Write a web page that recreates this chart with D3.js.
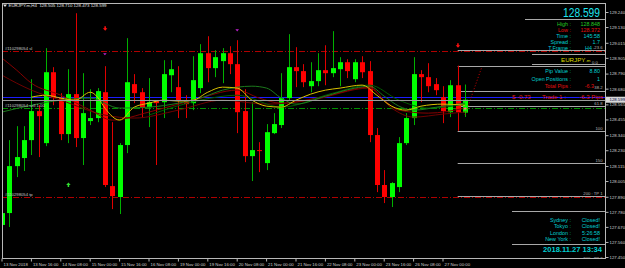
<!DOCTYPE html>
<html><head><meta charset="utf-8">
<script src="https://cdn.jsdelivr.net/npm/d3@7/dist/d3.min.js"></script>
<style>
html,body{margin:0;padding:0;background:#000;overflow:hidden}
svg{display:block}
text{font-family:"Liberation Sans",Arial,sans-serif}
</style></head><body>
<svg id="chart" width="625" height="268"></svg>
<script>
// ---------------- DATA ----------------
const titleText = "EURJPY.m,H4  128.505 128.710 128.473 128.599";
const opens = [127.684,127.771,128.114,128.173,128.304,128.516,128.282,128.800,128.611,128.348,
128.640,128.319,128.443,128.465,128.654,127.968,127.888,128.268,128.713,128.654,
128.545,128.589,128.581,128.778,128.691,128.596,128.574,128.684,128.939,128.830,
128.881,128.939,128.859,128.516,128.187,128.231,128.136,128.355,128.414,128.611,
128.837,128.808,128.698,128.735,128.815,128.793,128.822,128.873,128.749,128.873,
128.808,128.341,127.976,127.888,127.961,128.282,128.465,128.786,128.764,128.713,
128.618,128.508,128.705,128.505];
const highs = [127.800,128.304,128.406,128.406,128.749,128.559,128.976,128.837,128.647,128.822,
129.231,128.793,128.676,128.684,128.844,128.435,128.282,129.049,128.786,128.684,
128.757,128.596,128.888,128.888,128.844,128.632,128.917,129.005,129.063,128.961,
128.976,128.990,129.034,128.676,128.581,128.289,128.421,128.501,128.793,129.078,
128.983,128.859,128.873,128.939,128.997,129.100,128.910,128.895,128.895,128.917,
128.881,128.392,128.085,127.997,128.326,128.501,128.910,128.815,128.866,128.757,
128.698,128.742,128.848,128.710];
const lows = [127.650,127.669,128.034,128.078,128.195,128.180,128.260,128.559,128.304,128.282,
128.253,128.122,128.414,128.435,127.961,127.800,127.764,128.209,128.574,128.465,
128.399,128.122,128.465,128.654,128.465,128.465,128.523,128.647,128.727,128.764,
128.720,128.786,128.355,128.143,128.005,128.070,128.085,128.348,128.392,128.596,
128.691,128.691,128.654,128.698,128.705,128.764,128.698,128.757,128.727,128.757,
128.289,127.924,127.844,127.815,127.924,128.268,128.414,128.581,128.654,128.632,
128.428,128.472,128.372,128.473];
const closes = [127.771,128.114,128.180,128.304,128.516,128.479,128.800,128.611,128.348,128.640,
128.319,128.501,128.465,128.662,127.976,127.895,128.268,128.727,128.647,128.538,
128.581,128.574,128.786,128.822,128.596,128.567,128.742,128.939,128.830,128.910,
128.939,128.859,128.508,128.187,128.231,128.224,128.362,128.421,128.611,128.837,
128.808,128.727,128.735,128.815,128.793,128.830,128.873,128.808,128.873,128.800,
128.341,127.976,127.888,127.990,128.282,128.465,128.786,128.764,128.698,128.669,
128.516,128.705,128.508,128.599];

const xTickBars = [0,4,8,12,16,20,24,28,32,36,40,44,48,52,56,60];
const xTickLabels = ["13 Nov 2018","13 Nov 16:00","14 Nov 08:00","15 Nov 00:00","15 Nov 16:00",
"16 Nov 08:00","19 Nov 00:00","19 Nov 16:00","20 Nov 08:00","21 Nov 00:00","21 Nov 16:00",
"22 Nov 08:00","23 Nov 00:00","23 Nov 16:00","26 Nov 08:00","27 Nov 00:00"];
const yTickValues = [127.450,127.560,127.670,127.780,127.890,128.005,128.115,128.230,128.340,
128.455,128.565,128.680,128.790,128.905,129.015,129.130,129.240];

// moving averages: [bar index, price]
const maYellow = [[4,128.618],[6,128.632],[8,128.611],[10,128.596],[12,128.654],[13,128.618],[14,128.538],
[16,128.450],[18,128.545],[20,128.574],[22,128.596],[24,128.589],[26,128.596],[28,128.654],[30,128.691],
[32,128.684],[34,128.596],[36,128.552],[38,128.545],[40,128.596],[42,128.640],[44,128.669],[46,128.684],
[49,128.706],[51,128.632],[53,128.552],[55,128.523],[57,128.552],[60,128.567],[63,128.559]];
const maGreen = [[0,128.509],[4,128.559],[8,128.596],[12,128.611],[16,128.538],[20,128.545],[24,128.574],
[27,128.611],[30,128.669],[34,128.698],[36,128.684],[38,128.611],[40,128.567],[44,128.625],[48,128.684],
[50,128.698],[52,128.625],[54,128.552],[56,128.523],[60,128.552],[63,128.574]];
const maDarkGreen = [[20,128.487],[27,128.596],[32,128.632],[38,128.545],[45,128.647],[50,128.706],
[54,128.596],[58,128.538],[63,128.567]];
const maRed1 = [[0,128.903],[2,128.815],[4,128.720],[8,128.632],[12,128.523],[15,128.450],[20,128.509],
[26,128.596],[32,128.669],[35,128.611],[38,128.574],[44,128.625],[50,128.691],[52,128.596],[54,128.523],
[58,128.501],[63,128.538]];
const maRed2 = [[0,128.778],[2,128.720],[4,128.669],[8,128.596],[14,128.487],[18,128.465],[24,128.523],
[30,128.596],[36,128.567],[42,128.596],[50,128.684],[53,128.538],[56,128.472],[60,128.494],[63,128.509]];

const bidPrice = 128.599, askPrice = 128.616;
const orderSL = 128.954, orderOpen = 128.538, orderTP = 127.888;
const orderTicket = "#110298054";
const fibHigh = 128.848, fibLow = 128.372, fibStartBar = 62;
const fibLevels = [-23.6, 0, 38.2, 61.8, 100, 150, 200, 300];
const fibLabels = ["-23.6","0.0","38.2","61.8","100","150","200 : TP 1","300 : TP 2"];
const trendLine = [[63,128.490],[65.3,128.841]];
const arrowsDown = [[14,129.114],[62,128.990]];
const arrowsUp = [[9,127.983]];
const purpleMarks = [[14,128.932],[32,129.107]];

const infoLabels = ["High :","Low :","Time :","Spread :","T.Frame :"];
const infoValues = ["128.848","128.372","145:58","1.7","H4"];
const tradeLabels = ["Pip Value :","Open Positions :","Total Pips :"];
const tradeValues = ["8.80","1","-6.3"];
const tradeRow = ["$ -0.73","Trade 1 :","-6.3 Pips"];
const sessionLabels = ["Sydney :","Tokyo :","London :","New York :"];
const sessionValues = ["Closed!","Closed!","5:26:58","Closed!"];
const dateTimeText = "2018.11.27 13:34";

// ---------------- DRAW ----------------
const svg = d3.select("#chart");
svg.append("rect").attr("width",625).attr("height",268).attr("fill","#000");

const x = d3.scaleLinear().domain([0,63]).range([0,463.05]);
const cx = i => x(i) + 2;
const y = d3.scaleLinear().domain([127.45,129.24]).range([257,12]);
const PL=2, PR=605, PT=3, PB=258;

svg.append("defs").append("clipPath").attr("id","plot")
  .append("rect").attr("x",PL).attr("y",PT).attr("width",PR-PL).attr("height",PB-PT);
const plot = svg.append("g").attr("clip-path","url(#plot)");

const hline = (g,p,x1,x2,color,dash,w) => g.append("line")
  .attr("x1",x1).attr("x2",x2).attr("y1",Math.round(y(p))+0.5).attr("y2",Math.round(y(p))+0.5)
  .attr("stroke",color).attr("stroke-width",w||1).attr("stroke-dasharray",dash||null);

// order lines
hline(plot,orderSL,PL,PR,"#b00000","6,2,1,2");
hline(plot,orderOpen,PL,PR,"#009000","6,2,1,2");
hline(plot,orderTP,PL,PR,"#b00000","6,2,1,2");

// fib lines
const fibPrice = l => fibHigh - l/100*(fibHigh-fibLow);
fibLevels.forEach(l => hline(plot,fibPrice(l),cx(fibStartBar),PR,"#a8a8a8"));

// ask / bid
hline(plot,askPrice,PL,625,"#1c1cff");
hline(svg,askPrice,PR,625,"#1c1cff");
hline(svg,bidPrice,PL,625,"#9a9a9a");

// candles
const bars = d3.range(opens.length).map(i => ({i,o:opens[i],h:highs[i],l:lows[i],c:closes[i]}));
const cg = plot.append("g");
cg.selectAll("line.w").data(bars).join("line")
  .attr("x1",d=>Math.round(cx(d.i))+0.5).attr("x2",d=>Math.round(cx(d.i))+0.5)
  .attr("y1",d=>y(d.h)).attr("y2",d=>y(d.l))
  .attr("stroke",d=>d.c>=d.o?"#00b000":"#e00000").attr("stroke-width",1);
cg.selectAll("rect.b").data(bars).join("rect")
  .attr("x",d=>Math.round(cx(d.i))-2).attr("width",5)
  .attr("y",d=>y(Math.max(d.o,d.c)))
  .attr("height",d=>Math.max(1,Math.abs(y(d.o)-y(d.c))))
  .attr("fill",d=>d.c>=d.o?"#00ff00":"#ff0000");

// moving averages
const line = d3.line().x(d=>cx(d[0])).y(d=>y(d[1])).curve(d3.curveMonotoneX);
[[maRed2,"#6e0000"],[maRed1,"#850000"],[maDarkGreen,"#005a00"],[maGreen,"#1c7a1c"],[maYellow,"#d8c000"]]
  .forEach(([data,col]) => plot.append("path").datum(data).attr("d",line)
     .attr("fill","none").attr("stroke",col).attr("stroke-width",1));

// trend dotted line
plot.append("path").datum(trendLine).attr("d",d3.line().x(d=>cx(d[0])).y(d=>y(d[1])))
  .attr("stroke","#d00000").attr("stroke-dasharray","1,2").attr("fill","none");

// markers
arrowsDown.forEach(([i,p]) => {
  const X=cx(i), Y=y(p);
  plot.append("path").attr("d",`M${X-0.5},${Y-3}h1.5v2h1.5l-2.2,2.5l-2.3,-2.5h1.5z`).attr("fill","#ff1010");
});
arrowsUp.forEach(([i,p]) => {
  const X=cx(i), Y=y(p);
  plot.append("path").attr("d",`M${X-0.5},${Y+3}h1.5v-2h1.5l-2.2,-2.5l-2.3,2.5h1.5z`).attr("fill","#30e030");
});
purpleMarks.forEach(([i,p]) => {
  const X=cx(i), Y=y(p);
  plot.append("path").attr("d",`M${X-1.8},${Y-1}h3.6l-1.8,2.2z`).attr("fill","#c020d0");
});
plot.append("path").attr("d",`M${cx(63)-1.5},${y(orderOpen)+0.5}h3M${cx(63)},${y(orderOpen)-1}v3`)
  .attr("stroke","#ff8080").attr("stroke-width",1);

// frame
const fr = svg.append("g").attr("stroke","#b8b8b8").attr("stroke-width",1);
fr.append("line").attr("x1",PL).attr("x2",PR).attr("y1",PT+0.5).attr("y2",PT+0.5);
fr.append("line").attr("x1",PL+0.5).attr("x2",PL+0.5).attr("y1",PT).attr("y2",PB);
fr.append("line").attr("x1",PL).attr("x2",PR).attr("y1",PB+0.5).attr("y2",PB+0.5);

// y axis
const yAxis = d3.axisRight(y).tickValues(yTickValues).tickFormat(d3.format(".3f")).tickSize(3).tickSizeOuter(0);
const ya = svg.append("g").attr("transform",`translate(${PR+0.5},0)`).call(yAxis);
ya.select(".domain").attr("stroke","#b8b8b8").attr("d",`M0,${PT}V${PB+1}`);
ya.selectAll(".tick line").attr("stroke","#b8b8b8");
ya.selectAll(".tick text").attr("fill","#d0d0d0").attr("font-size",4.3).attr("x",4)
  .attr("font-family","Liberation Sans, Arial, sans-serif");
// bid label box
svg.append("rect").attr("x",606).attr("y",y(bidPrice)-3).attr("width",19).attr("height",6).attr("fill","#d8d8d8");
svg.append("text").attr("x",609.5).attr("y",y(bidPrice)+1.6).attr("font-size",4.3).attr("fill","#000040")
  .text(d3.format(".3f")(bidPrice));

// x axis
const xAxis = d3.axisBottom(x).tickValues(xTickBars).tickFormat((d,k)=>xTickLabels[k]).tickSize(3).tickSizeOuter(0);
const xa = svg.append("g").attr("transform",`translate(0,${PB+0.5})`).call(xAxis);
xa.select(".domain").remove();
xa.selectAll(".tick line").attr("stroke","#b8b8b8").attr("transform","translate(1.5,0)");
xa.selectAll(".tick text").attr("fill","#d0d0d0").attr("font-size",4.3).attr("text-anchor","start")
  .attr("x",3).attr("y",4.5).attr("dy","0.71em").attr("font-family","Liberation Sans, Arial, sans-serif");

// title
svg.append("path").attr("d","M3,4.5h4l-2,2.5z").attr("fill","#e0e0e0");
svg.append("text").attr("x",8.5).attr("y",7.4).attr("font-size",4.4).attr("fill","#e0e0e0")
  .attr("xml:space","preserve").text(titleText);

// order labels
const olab = (txt,p) => svg.append("text").attr("x",5).attr("y",y(p)-0.8).attr("font-size",4.2)
  .attr("fill","#c8c8c8").text(txt);
olab(orderTicket+" sl",orderSL);
olab(orderTicket+" sell 1.00",orderOpen);
olab(orderTicket+" tp",orderTP);

// fib labels
fibLevels.forEach((l,k) => svg.append("text").attr("x",k===1?592:602.5).attr("y",y(fibPrice(l))-1.2)
  .attr("font-size",4.2).attr("fill","#b8b8b8").attr("text-anchor",k===1?"start":"end")
  .attr("clip-path","url(#plot)").text(fibLabels[k]));

// panel separators
const sep = (x1,yy) => svg.append("line").attr("x1",x1).attr("x2",PR).attr("y1",yy+0.5).attr("y2",yy+0.5)
  .attr("stroke","#a8a8a8");
sep(525,19); sep(532,54); sep(532,64); sep(497,91); sep(512,211); sep(512,244);

const CY="#00ced1", GR="#22c822", RD="#e01010";
// big price
svg.append("text").attr("x",600).attr("y",17).attr("text-anchor","end").attr("font-size",12.5)
  .attr("fill","#1ee4ee").attr("textLength",37).attr("lengthAdjust","spacingAndGlyphs").text(d3.format(".3f")(bidPrice));

const row = (lab,val,yy,col,vx) => {
  svg.append("text").attr("x",571).attr("y",yy).attr("text-anchor","end").attr("font-size",5.4).attr("fill",col).text(lab);
  svg.append("text").attr("x",vx||600).attr("y",yy).attr("text-anchor","end").attr("font-size",5.4).attr("fill",col).text(val);
};
const infoCols=[GR,RD,CY,CY,CY];
infoLabels.forEach((l,k)=>row(l,infoValues[k],26+k*6,infoCols[k], k===4?592:600));
const sym = svg.append("text").attr("x",561).attr("y",62).attr("fill","#dede00");
sym.append("tspan").attr("font-size",6.2).text("EURJPY");
sym.append("tspan").attr("font-size",4.4).text(".m");
const tradeCols=[CY,CY,RD];
tradeLabels.forEach((l,k)=>row(l,tradeValues[k],73+k*7.5,tradeCols[k], k===2?594:600));
// red trade row
svg.append("text").attr("x",512).attr("y",99).attr("font-size",6).attr("fill","#e01818").text(tradeRow[0]);
svg.append("text").attr("x",542).attr("y",99).attr("font-size",6).attr("fill","#e01818").text(tradeRow[1]);
svg.append("text").attr("x",603).attr("y",99).attr("text-anchor","end").attr("font-size",6).attr("fill","#e01818").text(tradeRow[2]);
sessionLabels.forEach((l,k)=>row(l,sessionValues[k],222+k*6.3,CY));
svg.append("text").attr("x",602).attr("y",252).attr("text-anchor","end").attr("font-size",7.6).attr("font-weight","bold")
  .attr("fill",CY).attr("textLength",59).attr("lengthAdjust","spacingAndGlyphs").text(dateTimeText);
</script>
</body></html>
